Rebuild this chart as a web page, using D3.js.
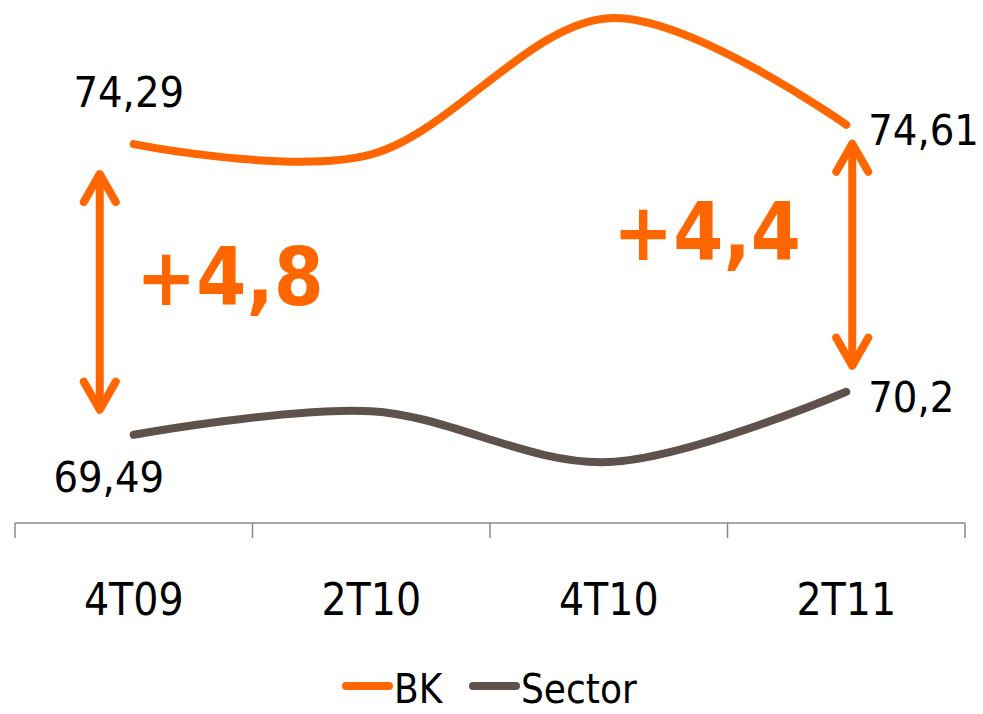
<!DOCTYPE html>
<html><head><meta charset="utf-8">
<script src="https://cdn.jsdelivr.net/npm/d3@7"></script>
<style>
html,body{margin:0;padding:0;background:#fff;}
svg{display:block;font-family:"DejaVu Sans Condensed","DejaVu Sans",sans-serif;font-stretch:condensed;}
</style></head>
<body>
<svg id="chart" width="983" height="714"></svg>
<script>
const categories = ["4T09", "2T10", "4T10", "2T11"];
const bkValues = [74.29, 74.12, 76.37, 74.61];
const sectorValues = [69.49, 69.88, 69.04, 70.2];
const seriesNames = ["BK", "Sector"];
const endLabelsBK = ["74,29", "74,61"];
const endLabelsSector = ["69,49", "70,2"];
const gapLabels = ["+4,8", "+4,4"];

const ORANGE = "#FF6600", BROWN = "#5F514C";
const svg = d3.select("#chart");

const x = d3.scaleBand().domain(categories).range([15, 965]);
const cx = c => x(c) + x.bandwidth() / 2;
const y = d3.scaleLinear().domain([68, 77]).range([525, -20]);

// axis
const axisY = 523;
const axis = d3.axisBottom(x).tickSize(0).tickPadding(0).tickFormat("");
const gAxis = svg.append("g").attr("transform", `translate(0,${axisY})`).call(axis);
gAxis.select(".domain").attr("stroke", "#898989").attr("stroke-width", 1.5).attr("d", "M15,0H965");
const bounds = categories.map(c => x(c)).concat([x(categories[categories.length-1]) + x.bandwidth()]);
svg.append("g").selectAll("line").data(bounds).join("line")
  .attr("x1", d => d).attr("x2", d => d).attr("y1", axisY).attr("y2", axisY + 15)
  .attr("stroke", "#898989").attr("stroke-width", 1.5);
svg.append("g").selectAll("text").data(categories).join("text")
  .attr("x", d => cx(d)).attr("y", 615).attr("text-anchor", "middle")
  .attr("font-size", 44).attr("fill", "#000").text(d => d);

// lines
const line = d3.line().x((d, i) => cx(categories[i])).y(d => y(d)).curve(d3.curveCatmullRom.alpha(0));
svg.append("path").datum(sectorValues).attr("d", line).attr("fill", "none")
  .attr("stroke", BROWN).attr("stroke-width", 8).attr("stroke-linecap", "round");
svg.append("path").datum(bkValues).attr("d", line).attr("fill", "none")
  .attr("stroke", ORANGE).attr("stroke-width", 8).attr("stroke-linecap", "round");

// end labels
const first = categories[0], last = categories[categories.length - 1];
svg.append("text").attr("x", cx(first) - 5).attr("y", y(bkValues[0]) - 37).attr("text-anchor", "middle")
  .attr("font-size", 43).text(endLabelsBK[0]);
svg.append("text").attr("x", cx(first) - 25).attr("y", y(sectorValues[0]) + 57).attr("text-anchor", "middle")
  .attr("font-size", 43).text(endLabelsSector[0]);
svg.append("text").attr("x", cx(last) + 22).attr("y", y(bkValues[3]) + 20).attr("text-anchor", "start")
  .attr("font-size", 43).text(endLabelsBK[1]);
svg.append("text").attr("x", cx(last) + 22).attr("y", y(sectorValues[3]) + 20).attr("text-anchor", "start")
  .attr("font-size", 43).text(endLabelsSector[1]);

// arrows
function arrow(ax, y1, y2) {
  const g = svg.append("g").attr("stroke", ORANGE).attr("stroke-width", 8)
    .attr("stroke-linecap", "round").attr("stroke-linejoin", "round").attr("fill", "none");
  g.append("line").attr("x1", ax).attr("x2", ax).attr("y1", y1 + 3).attr("y2", y2 - 3);
  g.append("path").attr("d", `M${ax-16},${y1+30}L${ax},${y1+2}L${ax+16},${y1+30}`);
  g.append("path").attr("d", `M${ax-16},${y2-30}L${ax},${y2-2}L${ax+16},${y2-30}`);
}
arrow(cx(first) - 34, y(bkValues[0]) + 28, y(sectorValues[0]) - 23);
arrow(cx(last) + 6, y(bkValues[3]) + 17, y(sectorValues[3]) - 24);

// gap labels
svg.append("text").attr("x", 136).attr("y", 305).attr("font-size", 80).attr("font-weight", "bold")
  .attr("fill", ORANGE).text(gapLabels[0]);
svg.append("text").attr("x", 613).attr("y", 260).attr("font-size", 80).attr("font-weight", "bold")
  .attr("fill", ORANGE).text(gapLabels[1]);

// legend
const legend = svg.append("g");
const legendItems = [{name: seriesNames[0], color: ORANGE, x0: 346}, {name: seriesNames[1], color: BROWN, x0: 473}];
legendItems.forEach(it => {
  legend.append("line").attr("x1", it.x0).attr("x2", it.x0 + 43).attr("y1", 686).attr("y2", 686)
    .attr("stroke", it.color).attr("stroke-width", 8).attr("stroke-linecap", "round");
  legend.append("text").attr("x", it.x0 + 48).attr("y", 703).attr("font-size", 40).text(it.name);
});
</script>
</body></html>
